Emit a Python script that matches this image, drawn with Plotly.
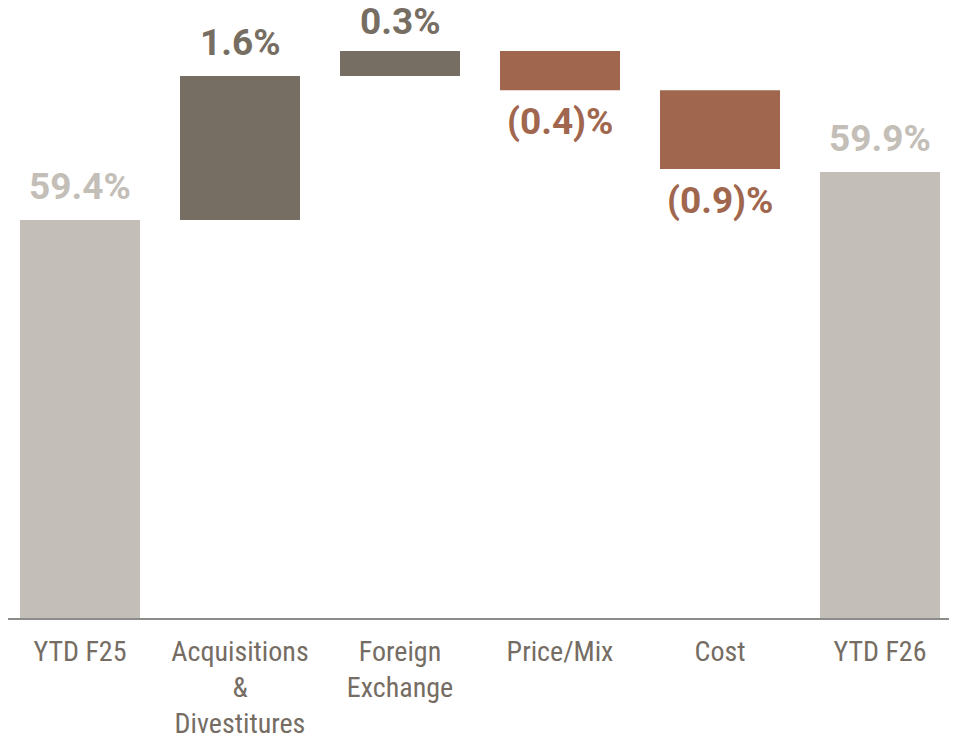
import plotly.graph_objects as go

categories = ["YTD F25", "Acquisitions<br>&<br>Divestitures", "Foreign<br>Exchange", "Price/Mix", "Cost", "YTD F26"]
start_total = 59.4
end_total = 59.9
changes = [1.50, 0.26, -0.41, -0.82]
labels = ["59.4%", "1.6%", "0.3%", "(0.4)%", "(0.9)%", "59.9%"]

C_TOTAL = "#C3BEB7"
C_UP = "#776E63"
C_DOWN = "#A0664E"
TICK_COL = "#756D63"

x = list(range(len(categories)))
bases, heights, colors = [], [], []
bases.append(0); heights.append(start_total); colors.append(C_TOTAL)
level = start_total
for d in changes:
    bases.append(level if d >= 0 else level + d)
    heights.append(abs(d))
    colors.append(C_UP if d >= 0 else C_DOWN)
    level += d
bases.append(0); heights.append(end_total); colors.append(C_TOTAL)

fig = go.Figure(go.Bar(x=x, y=heights, base=bases, marker=dict(color=colors, line=dict(width=0)),
                       width=0.75, hoverinfo="skip"))

label_font = "Roboto, Liberation Sans, sans-serif"
annotations = []
tops = [b + h for b, h in zip(bases, heights)]
for i, lab in enumerate(labels):
    neg = 0 < i < len(labels) - 1 and changes[i - 1] < 0
    col = C_TOTAL if i in (0, len(labels) - 1) else (C_DOWN if neg else C_UP)
    if neg:
        annotations.append(dict(x=i, y=bases[i], text=lab, showarrow=False, yanchor="top",
                                yshift=-8, font=dict(family=label_font, size=37, color=col, weight="bold")))
    else:
        shift = 6 if i == 2 else 10
        annotations.append(dict(x=i, y=tops[i], text=lab, showarrow=False, yanchor="bottom",
                                yshift=shift, font=dict(family=label_font, size=37, color=col, weight="bold")))

fig.update_layout(
    width=949, height=733,
    margin=dict(l=0, r=0, t=0, b=123),
    paper_bgcolor="white", plot_bgcolor="white",
    showlegend=False,
    annotations=annotations,
    xaxis=dict(range=[-0.45, 5.48125], tickvals=x, ticktext=categories, showgrid=False,
               zeroline=False, showline=True, linecolor="#8C8C8C", linewidth=2, ticks="",
               ticklabelstandoff=7, automargin=False,
               tickfont=dict(family="Liberation Sans Narrow, Roboto Condensed, DejaVu Sans Condensed, sans-serif",
                             size=28, color=TICK_COL)),
    yaxis=dict(range=[55.254, 61.608], visible=False, showgrid=False, zeroline=False, automargin=False),
)

fig.write_html("out.html")
